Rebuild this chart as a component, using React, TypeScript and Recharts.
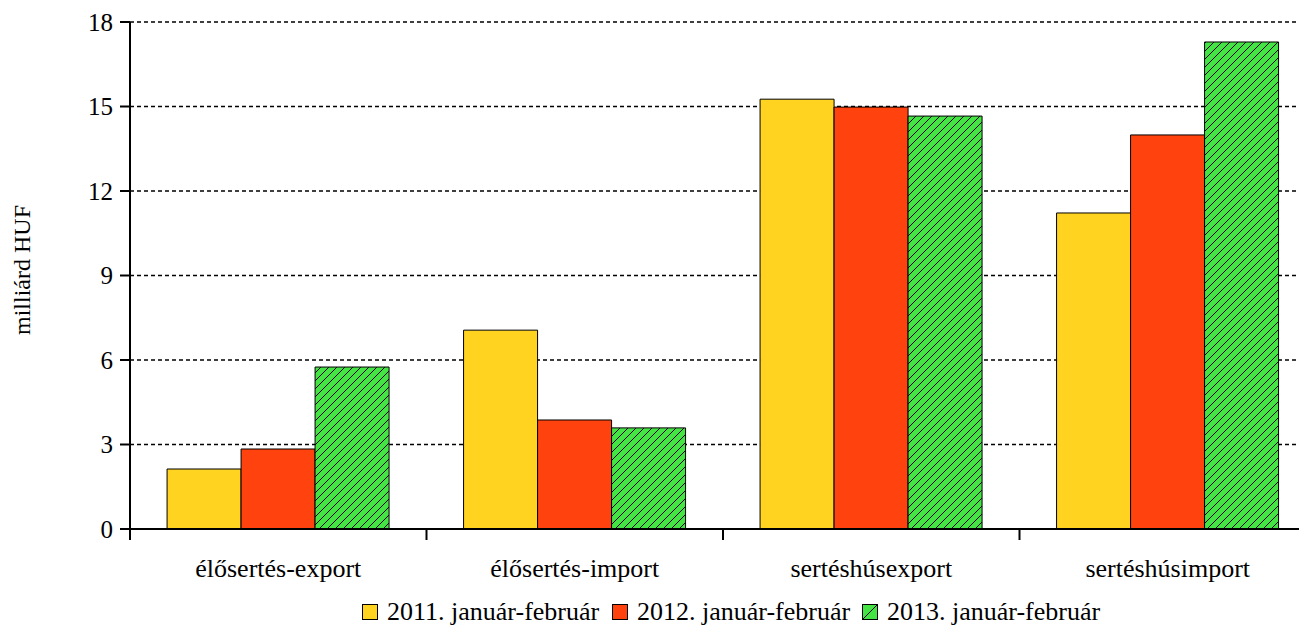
import React from 'react';
import { BarChart, Bar, XAxis, YAxis, CartesianGrid } from 'recharts';

const categories = ['élősertés-export', 'élősertés-import', 'sertéshúsexport', 'sertéshúsimport'];
const series2011 = [2.13, 7.06, 15.26, 11.22];
const series2012 = [2.84, 3.87, 14.98, 13.99];
const series2013 = [5.75, 3.59, 14.66, 17.29];
const yTicks = [0, 3, 6, 9, 12, 15, 18];
const seriesNames = ['2011. január-február', '2012. január-február', '2013. január-február'];
const seriesColors = ['#FFD320', '#FF420E', '#44E444'];

const FONT = '"Liberation Serif", "Times New Roman", serif';
const CHART_W = 1330;
const CHART_H = 619;
const MARGIN = { top: 14, right: 22, left: 0, bottom: 48 };
const Y_AXIS_W = 122;
const STEP = (CHART_W - MARGIN.left - MARGIN.right - Y_AXIS_W) / categories.length;

const data = categories.map((name, i) => ({
  name,
  y2011: series2011[i],
  y2012: series2012[i],
  y2013: series2013[i],
}));

const CategoryTick = (props: any) => {
  const { x, y, payload, index } = props;
  const left = x - STEP / 2;
  const right = x + STEP / 2;
  return (
    <g>
      <line x1={left} y1={y - 1} x2={left} y2={y + 11} stroke="#000" strokeWidth={2} />
      {index === categories.length - 1 && (
        <line x1={right} y1={y - 1} x2={right} y2={y + 11} stroke="#000" strokeWidth={2} />
      )}
      <text x={x} y={y + 48} textAnchor="middle" fontFamily={FONT} fontSize={26} fill="#000">
        {payload.value}
      </text>
    </g>
  );
};

const Legend = () => (
  <div style={{ position: 'absolute', left: 354, top: 590, display: 'flex', fontFamily: FONT, fontSize: 26, color: '#000' }}>
    {seriesNames.map((name, i) => (
      <div key={name} style={{ width: 250, height: 28, display: 'flex', alignItems: 'center', whiteSpace: 'nowrap' }}>
        <svg width={16} height={16} style={{ marginRight: 9, flexShrink: 0 }}>
          <rect x={0.5} y={0.5} width={15} height={15} fill={seriesColors[i]} stroke="#000" strokeWidth={1} />
          {i === 2 && <line x1={1} y1={15} x2={15} y2={1} stroke="#000" strokeWidth={1} />}
        </svg>
        <span style={{ lineHeight: '28px' }}>{name}</span>
      </div>
    ))}
  </div>
);

const App: React.FC = () => {
  return (
    <div style={{ position: 'relative', width: 1299, height: 619, overflow: 'hidden' }}>
      <BarChart
        width={CHART_W}
        height={CHART_H}
        data={data}
        margin={MARGIN}
        barCategoryGap="12.5%"
        barGap={0}
      >
        <defs>
          <pattern id="hatch" patternUnits="userSpaceOnUse" width={8} height={8}>
            <rect width={8} height={8} fill={seriesColors[2]} />
            <path d="M0,8 L8,0 M-2,2 L2,-2 M6,10 L10,6" stroke="#000" strokeWidth={1} />
          </pattern>
        </defs>
        <CartesianGrid vertical={false} stroke="#000" strokeDasharray="4 3" strokeWidth={1.5} />
        <XAxis
          dataKey="name"
          height={50}
          tickSize={0}
          tickMargin={0}
          tick={<CategoryTick />}
          axisLine={{ stroke: '#000', strokeWidth: 2 }}
          interval={0}
        />
        <YAxis
          width={Y_AXIS_W}
          domain={[0, 18]}
          ticks={yTicks}
          interval={0}
          tickSize={10}
          tickMargin={7}
          axisLine={{ stroke: '#000', strokeWidth: 2 }}
          tickLine={{ stroke: '#000', strokeWidth: 2 }}
          tick={{ fontFamily: FONT, fontSize: 25, fill: '#000' }}
          label={() => (
            <text
              x={14}
              y={262}
              transform="rotate(-90 14 262)"
              textAnchor="middle"
              dominantBaseline="central"
              fontFamily={FONT}
              fontSize={24}
              fill="#000"
            >
              milliárd HUF
            </text>
          )}
        />
        <Bar dataKey="y2011" name={seriesNames[0]} fill={seriesColors[0]} stroke="#000" strokeWidth={1} isAnimationActive={false} />
        <Bar dataKey="y2012" name={seriesNames[1]} fill={seriesColors[1]} stroke="#000" strokeWidth={1} isAnimationActive={false} />
        <Bar dataKey="y2013" name={seriesNames[2]} fill="url(#hatch)" stroke="#000" strokeWidth={1} isAnimationActive={false} />
      </BarChart>
      <Legend />
    </div>
  );
};

export default App;
